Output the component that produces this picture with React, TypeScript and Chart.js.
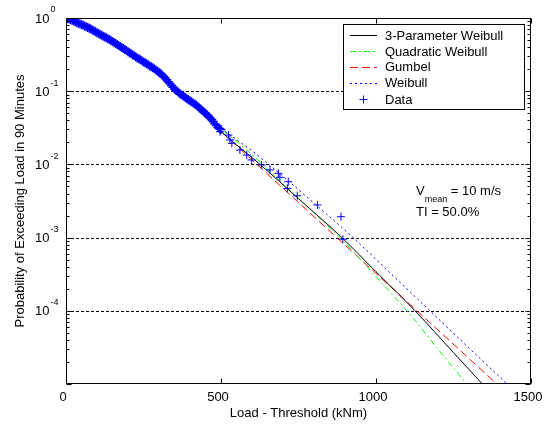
import React, { useEffect, useRef } from "react";
import { Chart, registerables } from "chart.js";

Chart.register(...registerables);

// Dense empirical exceedance data (load, probability)
const denseLoad = [0, 5, 10, 15, 20, 25, 30, 35, 40, 45, 50, 55, 60, 65, 70, 75, 80, 85, 90, 95, 100, 105, 110, 115, 120, 125, 130, 135, 140, 145, 150, 155, 160, 165, 170, 175, 180, 185, 190, 195, 200, 205, 210, 215, 220, 225, 230, 235, 240, 245, 250, 255, 260, 265, 270, 275, 280, 285, 290, 295, 300, 305, 310, 315, 320, 325, 330, 335, 340, 345, 350, 355, 360, 365, 370, 375, 380, 385, 390, 395, 400, 405, 410, 415, 420, 425, 430, 435, 440, 445, 450, 455, 460, 465, 470, 475, 480, 485, 490, 495, 500];
const denseProb = [1.0, 0.985, 0.966, 0.95, 0.933, 0.91, 0.891, 0.87, 0.851, 0.83, 0.813, 0.795, 0.776, 0.758, 0.741, 0.724, 0.708, 0.688, 0.668, 0.65, 0.631, 0.613, 0.596, 0.579, 0.562, 0.55, 0.537, 0.522, 0.507, 0.492, 0.479, 0.462, 0.447, 0.434, 0.422, 0.408, 0.394, 0.383, 0.372, 0.359, 0.347, 0.335, 0.324, 0.315, 0.305, 0.295, 0.285, 0.277, 0.269, 0.26, 0.251, 0.244, 0.237, 0.229, 0.221, 0.215, 0.209, 0.202, 0.195, 0.188, 0.182, 0.174, 0.166, 0.158, 0.151, 0.143, 0.135, 0.127, 0.12, 0.113, 0.107, 0.102, 0.098, 0.094, 0.091, 0.088, 0.085, 0.082, 0.079, 0.0765, 0.074, 0.0715, 0.069, 0.067, 0.065, 0.062, 0.059, 0.0565, 0.054, 0.052, 0.05, 0.0475, 0.045, 0.043, 0.041, 0.0385, 0.036, 0.034, 0.032, 0.031, 0.03];

// Sparse tail data
const tailLoad = [497, 524, 529, 535, 561, 583, 599, 631, 658, 685, 690, 717, 714, 746, 811, 887, 893];
const tailProb = [0.028, 0.0252, 0.0216, 0.0194, 0.0157, 0.0134, 0.0115, 0.0098, 0.0084, 0.00755, 0.00666, 0.0058, 0.0047, 0.00373, 0.00279, 0.00193, 0.00095];

// Fitted distributions
const weibull3Load = [474, 550, 626, 750, 890, 1000, 1126, 1250, 1343, 1400];
const weibull3Prob = [0.035, 0.0185, 0.01, 0.0034, 0.001, 0.000342, 0.0001, 0.0000268, 0.00001, 0.0000054];

const quadWeibullLoad = [474, 583, 700, 900, 1000, 1100, 1200, 1287, 1350];
const quadWeibullProb = [0.037, 0.0158, 0.0054, 0.00085, 0.000292, 0.0001, 0.00003, 0.0000107, 0.000005];

const gumbelLoad = [474, 700, 900, 1100, 1300, 1450];
const gumbelProb = [0.0355, 0.00472, 0.00079, 0.000133, 0.0000223, 0.00000585];

const weibullLoad = [474, 604, 648, 780, 926, 1050, 1174, 1300, 1423, 1480];
const weibullProb = [0.037, 0.0148, 0.0105, 0.0035, 0.001, 0.000316, 0.0001, 0.000031, 0.00001, 0.0000059];

const xTicks = [0, 500, 1000, 1500];
const yDecades = [0, -1, -2, -3, -4];

const legendLabels = ["3-Parameter Weibull", "Quadratic Weibull", "Gumbel", "Weibull", "Data"];

const FONT = '"Liberation Sans", Arial, Helvetica, sans-serif';

const DASH_GREEN = [6, 3, 2, 3];
const DASH_RED = [8, 4];
const DASH_BLUE = [2, 3];

function pts(xs: number[], ys: number[]) {
  return xs.map((x, i) => ({ x, y: ys[i] }));
}

const matlabPlugin = {
  id: "matlabDecor",
  beforeDatasetsDraw(chart: any) {
    const { ctx, chartArea: a, scales } = chart;
    const y = scales.y;
    ctx.save();
    ctx.strokeStyle = "#000";
    ctx.lineWidth = 1;
    ctx.setLineDash([3, 2]);
    for (const d of yDecades) {
      if (d === 0) continue;
      const py = Math.round(y.getPixelForValue(Math.pow(10, d))) + 0.5;
      ctx.beginPath();
      ctx.moveTo(a.left, py);
      ctx.lineTo(a.right, py);
      ctx.stroke();
    }
    ctx.restore();
  },
  afterDraw(chart: any) {
    const { ctx, chartArea: a, scales } = chart;
    const x = scales.x;
    const y = scales.y;
    ctx.save();
    ctx.setLineDash([]);
    ctx.strokeStyle = "#000";
    ctx.lineWidth = 1;
    // frame
    const L = Math.round(a.left) + 0.5;
    const R = Math.round(a.right) - 0.5;
    const T = Math.round(a.top) + 0.5;
    const B = Math.round(a.bottom) - 0.5;
    ctx.strokeRect(L, T, R - L, B - T);
    // x ticks
    ctx.beginPath();
    for (const v of xTicks) {
      const px = Math.round(x.getPixelForValue(v)) + 0.5;
      ctx.moveTo(px, B);
      ctx.lineTo(px, B - 5);
      ctx.moveTo(px, T);
      ctx.lineTo(px, T + 5);
    }
    // y ticks (major + minor)
    for (const d of yDecades) {
      for (let m = 1; m <= 9; m++) {
        const v = m * Math.pow(10, d - 1);
        if (v < y.min || v > y.max) continue;
        const py = Math.round(y.getPixelForValue(v)) + 0.5;
        const len = m === 1 ? 5 : 3;
        ctx.moveTo(L, py);
        ctx.lineTo(L + len, py);
        ctx.moveTo(R, py);
        ctx.lineTo(R - len, py);
      }
    }
    ctx.stroke();

    // y tick labels 10^n
    ctx.fillStyle = "#000";
    ctx.textBaseline = "middle";
    ctx.textAlign = "left";
    for (const d of yDecades) {
      const py = y.getPixelForValue(Math.pow(10, d));
      ctx.font = `13px ${FONT}`;
      ctx.fillText("10", 35, py + 1);
      const w = ctx.measureText("10").width;
      ctx.font = `9px ${FONT}`;
      ctx.fillText(String(d), 35 + w + 1, py - 8);
    }

    // legend
    const lx = 343, ly = 24, lw = 181, lh = 85;
    ctx.fillStyle = "#fff";
    ctx.fillRect(lx, ly, lw, lh);
    ctx.strokeStyle = "#000";
    ctx.strokeRect(lx + 0.5, ly + 0.5, lw, lh);
    const rows = [35, 51, 66.5, 82.5, 99];
    const styles = [
      { c: "#000000", dash: [] as number[] },
      { c: "#00ff00", dash: DASH_GREEN },
      { c: "#ff0000", dash: DASH_RED },
      { c: "#0000ff", dash: DASH_BLUE },
    ];
    for (let i = 0; i < 5; i++) {
      const ry = rows[i];
      if (i < 4) {
        ctx.strokeStyle = styles[i].c;
        ctx.setLineDash(styles[i].dash);
        ctx.beginPath();
        ctx.moveTo(350, Math.round(ry) + 0.5);
        ctx.lineTo(377, Math.round(ry) + 0.5);
        ctx.stroke();
      } else {
        ctx.setLineDash([]);
        ctx.strokeStyle = "#0000ff";
        ctx.beginPath();
        ctx.moveTo(363.5 - 4, Math.round(ry) + 0.5);
        ctx.lineTo(363.5 + 4, Math.round(ry) + 0.5);
        ctx.moveTo(363.5, Math.round(ry) + 0.5 - 4);
        ctx.lineTo(363.5, Math.round(ry) + 0.5 + 4);
        ctx.stroke();
      }
      ctx.fillStyle = "#000";
      ctx.font = `13px ${FONT}`;
      ctx.textBaseline = "middle";
      ctx.fillText(legendLabels[i], 385, ry + 1);
    }
    ctx.setLineDash([]);

    // annotation
    ctx.font = `13px ${FONT}`;
    ctx.fillText("V", 416, 191);
    const vw = ctx.measureText("V").width;
    ctx.font = `9px ${FONT}`;
    ctx.fillText("mean", 416 + vw, 200);
    const mw = ctx.measureText("mean").width;
    ctx.font = `13px ${FONT}`;
    ctx.fillText(" = 10 m/s", 416 + vw + mw, 191);
    ctx.fillText("TI = 50.0%", 416, 212);
    ctx.restore();
  },
};

export default function App() {
  const ref = useRef<HTMLCanvasElement>(null);
  useEffect(() => {
    const canvas = ref.current;
    if (!canvas) return;
    const lineDs = (label: string, xs: number[], ys: number[], color: string, dash: number[]) => ({
      label,
      data: pts(xs, ys),
      borderColor: color,
      backgroundColor: color,
      borderWidth: 1,
      borderDash: dash,
      pointRadius: 0,
      showLine: true,
      fill: false,
      cubicInterpolationMode: "monotone" as const,
    });
    const chart = new Chart(canvas, {
      type: "line",
      data: {
        datasets: [
          {
            label: "Data",
            data: pts(denseLoad, denseProb),
            showLine: false,
            pointStyle: "cross",
            pointRadius: 4.5,
            pointBorderWidth: 1.5,
            borderColor: "#0000ff",
            backgroundColor: "#0000ff",
          },
          {
            label: "Data tail",
            data: pts(tailLoad, tailProb),
            showLine: false,
            pointStyle: "cross",
            pointRadius: 4,
            pointBorderWidth: 1,
            borderColor: "#0000ff",
            backgroundColor: "#0000ff",
          },
          lineDs("3-Parameter Weibull", weibull3Load, weibull3Prob, "#000000", []),
          lineDs("Quadratic Weibull", quadWeibullLoad, quadWeibullProb, "#00ff00", DASH_GREEN),
          lineDs("Gumbel", gumbelLoad, gumbelProb, "#ff0000", DASH_RED),
          lineDs("Weibull", weibullLoad, weibullProb, "#0000ff", DASH_BLUE),
        ] as any,
      },
      options: {
        responsive: false,
        animation: false,
        devicePixelRatio: 1,
        layout: { padding: { left: 0, top: 18, right: 21, bottom: 0 } },
        plugins: { legend: { display: false }, tooltip: { enabled: false } },
        scales: {
          x: {
            type: "linear",
            min: 0,
            max: 1500,
            grid: { display: false, drawTicks: false },
            border: { display: false },
            ticks: {
              stepSize: 500,
              padding: 6,
              labelOffset: -3,
              color: "#000",
              font: { family: FONT, size: 13 },
              callback: (v: any) => String(v),
            },
            title: {
              display: true,
              text: "Load - Threshold (kNm)",
              color: "#000",
              font: { family: FONT, size: 13 },
              padding: { top: 0, bottom: 7 },
            },
            afterFit: (s: any) => {
              s.height = 44;
            },
          },
          y: {
            type: "logarithmic",
            min: 1e-5,
            max: 1,
            grid: { display: false },
            border: { display: false },
            ticks: { display: false },
            title: {
              display: true,
              text: "Probability of Exceeding Load in 90 Minutes",
              color: "#000",
              font: { family: FONT, size: 13 },
              padding: { top: 13, bottom: 0 },
            },
            afterFit: (s: any) => {
              s.width = 66;
            },
          },
        },
      } as any,
      plugins: [matlabPlugin],
    });
    return () => chart.destroy();
  }, []);
  return (
    <div style={{ position: "absolute", left: 0, top: 0, width: 552, height: 428, background: "#fff" }}>
      <canvas ref={ref} width={552} height={428} style={{ width: 552, height: 428, display: "block" }} />
    </div>
  );
}
